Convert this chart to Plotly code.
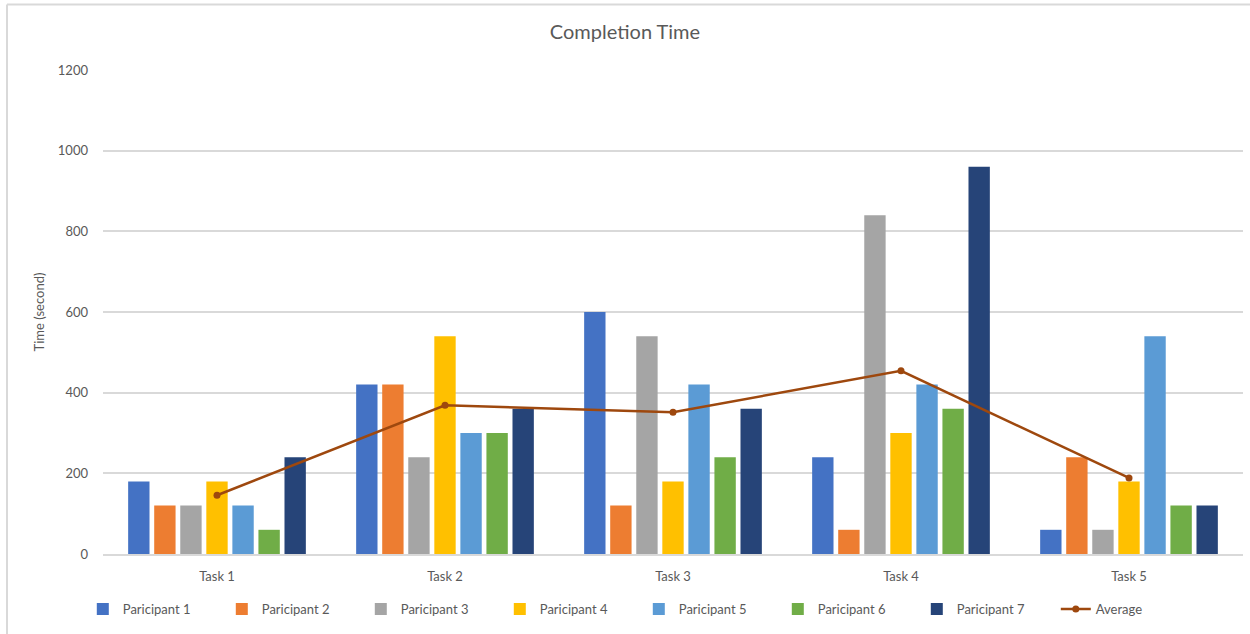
import plotly.graph_objects as go

tasks = ["Task 1", "Task 2", "Task 3", "Task 4", "Task 5"]
participants = ["Paricipant 1", "Paricipant 2", "Paricipant 3", "Paricipant 4",
                "Paricipant 5", "Paricipant 6", "Paricipant 7"]
times = [
    [180, 420, 600, 240, 60],
    [120, 420, 120, 60, 240],
    [120, 240, 540, 840, 60],
    [180, 540, 180, 300, 180],
    [120, 300, 420, 420, 540],
    [60, 300, 240, 360, 120],
    [240, 360, 360, 960, 120],
]
colors = ["#4472C4", "#ED7D31", "#A5A5A5", "#FFC000", "#5B9BD5", "#70AD47", "#264478"]
average = [sum(col) / len(col) for col in zip(*times)]

FONT = "Lato, 'Open Sans', sans-serif"
GREY = "#595959"

fig = go.Figure()
for name, vals, c in zip(participants, times, colors):
    fig.add_trace(go.Bar(x=tasks, y=vals, name=name, marker_color=c,
                         marker_line_width=0))
fig.add_trace(go.Scatter(x=tasks, y=average, name="Average", mode="lines+markers",
                         line=dict(color="#9E480E", width=2.5),
                         marker=dict(color="#9E480E", size=7, symbol="circle")))

# light frame along the top and left edges
fig.add_shape(type="line", xref="paper", yref="paper",
              x0=-0.0842, x1=1.01, y0=1.1353, y1=1.1353,
              line=dict(color="#d9d9d9", width=2))
fig.add_shape(type="line", xref="paper", yref="paper",
              x0=-0.0842, x1=-0.0842, y0=1.1353, y1=-0.2,
              line=dict(color="#d9d9d9", width=2))

fig.update_layout(
    width=1250, height=634,
    margin=dict(l=103, r=7, t=70, b=80, autoexpand=False),
    paper_bgcolor="white", plot_bgcolor="white",
    font=dict(family=FONT, color=GREY, size=13),
    title=dict(text="Completion Time", x=0.5, xanchor="center",
               y=1 - 32 / 634, yanchor="middle", yref="container",
               font=dict(size=20, color=GREY, family=FONT)),
    barmode="group", bargap=0.2, bargroupgap=0.18,
    showlegend=True,
    legend=dict(orientation="h", x=0.47, xanchor="center",
                y=-0.1136, yanchor="middle", font=dict(size=13, color=GREY),
                entrywidth=94, entrywidthmode="pixels", itemwidth=30,
                traceorder="normal"),
    xaxis=dict(showgrid=False, showline=True, linecolor="#d9d9d9", linewidth=1.5,
               ticks="", ticklabelstandoff=10,
               tickfont=dict(size=13, color=GREY)),
    yaxis=dict(range=[0, 1200], dtick=200, showgrid=True, gridcolor="#d9d9d9",
               gridwidth=1.5, zeroline=False, showline=False, ticks="",
               ticklabelstandoff=14,
               title=dict(text="Time (second)", standoff=10,
                          font=dict(size=13, color=GREY)),
               tickfont=dict(size=13, color=GREY)),
)

fig.write_html("out.html")
